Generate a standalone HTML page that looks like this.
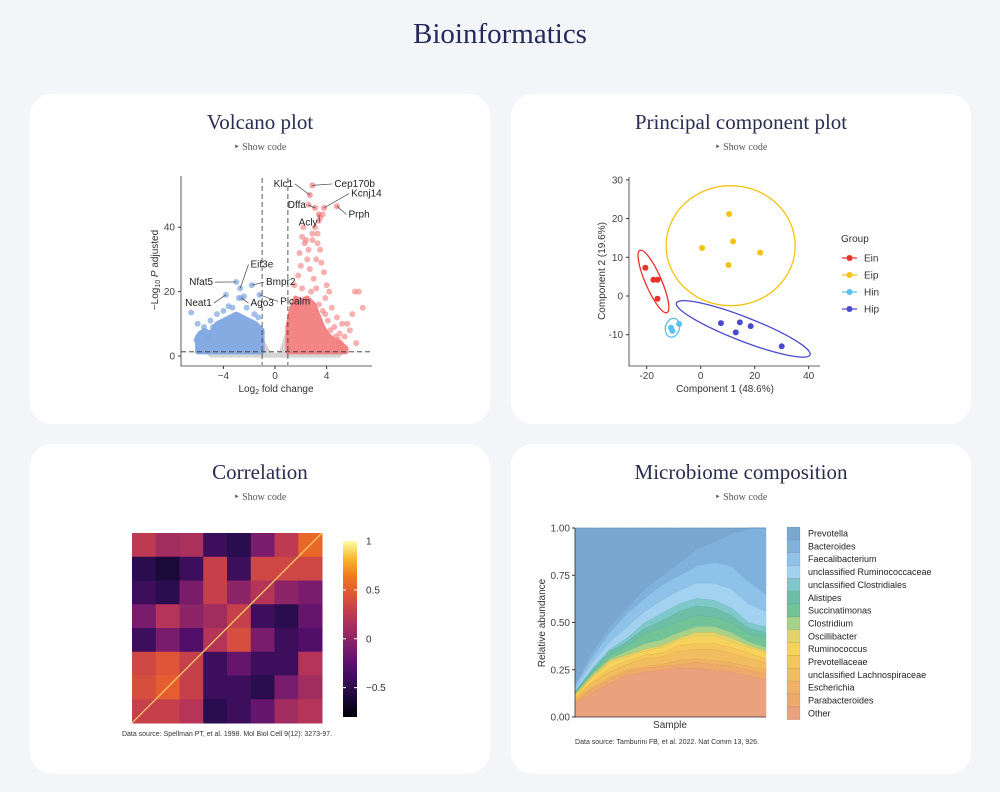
<!DOCTYPE html>
<html><head><meta charset="utf-8">
<style>
body{margin:0;width:1000px;height:792px;background:#f4f5f8;font-family:"Liberation Sans",sans-serif;position:relative;overflow:hidden}
.h1{position:absolute;left:0;width:1000px;top:18px;text-align:center;font-family:"Liberation Serif",serif;font-size:29px;color:#26285a}
.card{position:absolute;width:460px;height:330px;background:#fff;border-radius:22px}
.ct{position:absolute;left:0;width:460px;top:16px;text-align:center;font-family:"Liberation Serif",serif;font-size:21px;color:#2b2d50}
.sc{position:absolute;left:0;width:460px;top:48px;text-align:center;font-family:"Liberation Serif",serif;font-size:10px;color:#555}
svg{position:absolute;left:0;top:0}
text{font-family:"Liberation Sans",sans-serif}
</style></head><body>
<div class="h1">Bioinformatics</div>
<div class="card" style="left:30px;top:94px"><div class="ct">Volcano plot</div><div class="sc">‣ Show code</div></div>
<div class="card" style="left:511px;top:94px"><div class="ct">Principal component plot</div><div class="sc">‣ Show code</div></div>
<div class="card" style="left:30px;top:444px"><div class="ct">Correlation</div><div class="sc">‣ Show code</div></div>
<div class="card" style="left:511px;top:444px"><div class="ct">Microbiome composition</div><div class="sc">‣ Show code</div></div>
<svg id="s" width="1000" height="792"></svg>
<script>
// ---------- Volcano data ----------
const volUpPts=[[1.2,12],[1.5,22],[1.8,25],[2,28],[2.2,40],[2.4,36],[2.6,33],[2.9,38],[3.1,40],[2.5,30],[2.7,27],[3,24],[3.3,35],[3.5,33],[3.8,26],[3.2,21],[2.8,20],[2.1,21],[1.9,32],[3.6,29],[4,22],[4.2,20],[3.9,18],[4.4,15],[4.8,12],[5.2,10],[5.6,10],[6,13],[6.5,20],[6.8,15],[6.2,20],[5.8,8],[5.4,6],[4.6,9],[3.4,42],[3.5,43],[3.7,44],[2.3,35],[1.6,15],[2.6,47],[1.7,17],[4.9,5],[5,7],[6.3,4],[4.1,11],[3.9,13],[2.9,36],[3.3,38],[2.1,37],[3.2,30],[4.3,8],[4.7,6],[5.1,4],[3.7,14],[3.4,16]];
const volDownPts=[[-6.5,13.5],[-6,10],[-5.5,9],[-5,11],[-4.5,13],[-3.3,15],[-2.2,15],[-1.6,13],[-1.3,12],[-4,14],[-4.8,9],[-5.8,7],[-3.6,15.5],[-2.8,18],[-2.4,18.5],[-5.2,6],[-6.1,5]];
const volUpEnvX=[1,1.3,1.6,2,2.5,3,3.3,3.7,4,4.5,5,5.5];
const volUpEnvY=[9,15,18,17,18,16,13,9,7,5,4,2.5];
const volDownEnvX=[-6,-5.5,-5,-4.5,-4,-3.5,-3,-2.5,-2,-1.5,-1];
const volDownEnvY=[6,8,7,10,11,12,13,12,11,10,8];
const volLabels=[["Klc1",2.7,50,1.4,52.5],["Cep170b",2.9,53,4.6,52.5],["Kcnj14",3.8,46,5.9,49.5],["Dffa",3.1,46,2.4,46],["Prph",4.8,46.5,5.7,43],["Acly",3.4,44,3.3,40.5],["Eif3e",-2.7,21,-1.9,27.5],["Nfat5",-3.0,23,-4.8,22],["Bmpr2",-1.8,22,-0.7,22],["Neat1",-3.8,19,-4.9,15.5],["Ago3",-2.6,18,-1.9,15.5],["Picalm",-1.2,19,0.4,16]];
const volXTicks=[-4,0,4], volYTicks=[0,20,40];
// ---------- PCA data ----------
const pcaGroups=["Ein","Eip","Hin","Hip"];
const pcaColors=["#e8302c","#f5c211","#5bc0ec","#4a4ad0"];
const pcaX=[[-20.5,-17.5,-16,-16],[0.5,10.5,12,10.3,22],[-11,-10.5,-8],[7.5,14.5,18.5,13,30]];
const pcaY=[[7.3,4.2,4.2,-0.7],[12.4,21.2,14.1,8,11.2],[-8.2,-9,-7.2],[-7,-6.8,-7.8,-9.4,-13]];
const pcaEllipseEnds=[[-22.5,11.8,-12.5,-4.3],[-12.8,13,35,13],[-9.6,-5.8,-11.3,-10.6],[-9,-1.8,40.5,-15.2]];
const pcaEllipseMinor=[8,60,7,12];
const pcaXTicks=[-20,0,20,40], pcaYTicks=[-10,0,10,20,30];
// ---------- Correlation data ----------
const corrMatrix=[
[0.25,0.1,0.15,-0.4,-0.5,-0.1,0.25,0.55],
[-0.5,-0.6,-0.4,0.3,-0.4,0.35,0.35,0.35],
[-0.4,-0.5,-0.1,0.3,0,0.2,0,-0.1],
[-0.1,0.2,0,0.1,0.3,-0.4,-0.5,-0.2],
[-0.4,-0.1,-0.3,0.2,0.4,-0.1,-0.4,-0.3],
[0.35,0.45,0.3,-0.4,-0.2,-0.4,-0.4,0.2],
[0.4,0.5,0.3,-0.4,-0.4,-0.5,-0.1,0.1],
[0.3,0.3,0.2,-0.5,-0.4,-0.2,0.1,0.2]];
const corrTicks=[1,0.5,0,-0.5];
// ---------- Microbiome data ----------
const taxa=["Prevotella","Bacteroides","Faecalibacterium","unclassified Ruminococcaceae","unclassified Clostridiales","Alistipes","Succinatimonas","Clostridium","Oscillibacter","Ruminococcus","Prevotellaceae","unclassified Lachnospiraceae","Escherichia","Parabacteroides","Other"];
const taxaColors=["#7aa7cf","#80b1dc","#8ec2e8","#a3d2f0","#7fc8c9","#6cbfa6","#72c498","#a8d18a","#e2d46b","#f5d35c","#f5c65b","#f1bd60","#f0b366","#eea96c","#eaa27e"];
const abund=[
[.82,.65,.52,.42,.32,.25,.18,.11,.07,.03,0,0],
[.01,.03,.03,.03,.05,.05,.07,.09,.11,.17,.28,.35],
[.02,.03,.05,.07,.07,.08,.08,.09,.11,.12,.12,.09],
[.01,.03,.04,.06,.06,.07,.07,.08,.09,.1,.1,.08],
[.005,.01,.01,.02,.03,.04,.04,.04,.04,.04,.03,.03],
[.005,.01,.02,.02,.03,.04,.05,.05,.05,.04,.03,.03],
[.005,.01,.02,.03,.05,.06,.06,.06,.05,.05,.04,.05],
[.005,.01,.01,.02,.03,.03,.03,.03,.03,.03,.02,.02],
[0,.01,.01,.01,.01,.01,.01,.02,.02,.02,.01,.01],
[.01,.02,.03,.02,.02,.03,.03,.04,.04,.03,.03,.03],
[.01,.01,.02,.02,.02,.02,.03,.03,.03,.03,.03,.02],
[.01,.02,.03,.03,.04,.04,.05,.05,.06,.05,.04,.04],
[.01,.01,.01,.01,.01,.01,.02,.02,.02,.02,.02,.02],
[.01,.02,.02,.02,.02,.02,.02,.03,.03,.03,.03,.03],
[.07,.13,.18,.22,.24,.25,.26,.26,.25,.24,.22,.20]];
const abTicks=["0.00","0.25","0.50","0.75","1.00"];

const S=document.getElementById('s'),NS='http://www.w3.org/2000/svg';
function el(tag,attrs,parent){const e=document.createElementNS(NS,tag);for(const k in attrs)e.setAttribute(k,attrs[k]);(parent||S).appendChild(e);return e;}
function txt(x,y,s,attrs){const e=el('text',Object.assign({x:x,y:y,'font-size':10,fill:'#333'},attrs||{}));e.textContent=s;return e;}

// ===== Volcano =====
(function(){
const g=el('g',{});
const X=v=>275+v*12.9, Y=v=>356-v*3.22;
const grey=el('path',{d:`M${X(-5.5)},${Y(1.3)} L${X(-1)},${Y(1.3)} L${X(-1)},${Y(6)} L${X(-0.3)},${Y(1)} L${X(0.3)},${Y(1)} L${X(1)},${Y(10)} L${X(1)},${Y(1.3)} L${X(5.5)},${Y(1.3)} L${X(5)},${Y(-0.5)} L${X(-5)},${Y(-0.5)} Z`,fill:'#d4d4d4'},g);

let d=`M${X(volDownEnvX[0])},${Y(1.3)}`;volDownEnvX.forEach((x,i)=>d+=` L${X(x)},${Y(volDownEnvY[i])}`);d+=` L${X(-1)},${Y(1.3)} Z`;
const bc=el('path',{d:d,fill:'#86abe3',stroke:'#86abe3','stroke-width':5,'stroke-linejoin':'round'},g);
d=`M${X(1)},${Y(1.3)}`;volUpEnvX.forEach((x,i)=>d+=` L${X(x)},${Y(volUpEnvY[i])}`);d+=` L${X(volUpEnvX[volUpEnvX.length-1])},${Y(1.3)} Z`;
const rc=el('path',{d:d,fill:'#f48585',stroke:'#f48585','stroke-width':5,'stroke-linejoin':'round'},g);
volUpPts.forEach(p=>{const c=el('circle',{cx:X(p[0]),cy:Y(p[1]),r:3,fill:'#f47c7c','fill-opacity':0.6},g);});
volDownPts.forEach(p=>{const c=el('circle',{cx:X(p[0]),cy:Y(p[1]),r:3,fill:'#7ea6e0','fill-opacity':0.7},g);});
volLabels.forEach(l=>{const col=l[1]>0?'#f47c7c':'#7ea6e0';
 const c=el('circle',{cx:X(l[1]),cy:Y(l[2]),r:3,fill:col,'fill-opacity':0.7},g);
 const ln=el('line',{x1:X(l[1]),y1:Y(l[2]),x2:X(l[3])+(l[3]<l[1]?2:-2),y2:Y(l[4])-3,stroke:'#444','stroke-width':0.7},g);
 const t=txt(X(l[3]),Y(l[4]),l[0],{'font-size':10,fill:'#222','text-anchor':l[3]<l[1]?'end':'start'});g.appendChild(t);});
[-1,1].forEach(v=>{const l=el('line',{x1:X(v),x2:X(v),y1:178,y2:365,stroke:'#333','stroke-dasharray':'5,3','stroke-width':0.8},g);});
const hl=el('line',{x1:181,x2:372,y1:Y(1.3),y2:Y(1.3),stroke:'#333','stroke-dasharray':'5,3','stroke-width':0.8},g);
const ax=el('path',{d:'M181,176 L181,366 L372,366',fill:'none',stroke:'#333','stroke-width':0.8},g);
volXTicks.forEach(v=>{el('line',{x1:X(v),x2:X(v),y1:366,y2:369,stroke:'#333'},g);const t=txt(X(v),379,String(v).replace('-','−'),{'text-anchor':'middle',fill:'#444'});g.appendChild(t);});
volYTicks.forEach(v=>{el('line',{x1:178,x2:181,y1:Y(v),y2:Y(v),stroke:'#333'},g);const t=txt(175,Y(v)+3.5,v,{'text-anchor':'end',fill:'#444'});g.appendChild(t);});
const xt=el('text',{x:276,y:392,'text-anchor':'middle','font-size':10,fill:'#333'},g);xt.innerHTML='Log<tspan font-size="7" dy="2">2</tspan><tspan dy="-2"> fold change</tspan>';
const yt=el('text',{x:0,y:0,transform:'translate(158,270) rotate(-90)','text-anchor':'middle','font-size':10,fill:'#333'},g);yt.innerHTML='−Log<tspan font-size="7" dy="2">10</tspan><tspan dy="-2" font-style="italic"> P</tspan><tspan> adjusted</tspan>';
})();

// ===== PCA =====
(function(){
const g=el('g',{});
const X=v=>700.7+v*2.7, Y=v=>296-v*3.87;
pcaEllipseEnds.forEach((e,i)=>{const x1=X(e[0]),y1=Y(e[1]),x2=X(e[2]),y2=Y(e[3]);
 const cx=(x1+x2)/2,cy=(y1+y2)/2,rx=Math.hypot(x2-x1,y2-y1)/2,ang=Math.atan2(y2-y1,x2-x1)*180/Math.PI;
 const el1=el('ellipse',{cx:cx,cy:cy,rx:rx,ry:pcaEllipseMinor[i],transform:`rotate(${ang} ${cx} ${cy})`,fill:'none',stroke:pcaColors[i],'stroke-width':1.3},g);
 });
pcaX.forEach((xs,i)=>xs.forEach((x,j)=>{const c=el('circle',{cx:X(x),cy:Y(pcaY[i][j]),r:3,fill:pcaColors[i]},g);}));
const ax=el('path',{d:'M629,177 L629,366 L820,366',fill:'none',stroke:'#333','stroke-width':0.8},g);
pcaXTicks.forEach(v=>{el('line',{x1:X(v),x2:X(v),y1:366,y2:369,stroke:'#333'},g);const t=txt(X(v),379,v,{'text-anchor':'middle',fill:'#444'});g.appendChild(t);});
pcaYTicks.forEach(v=>{el('line',{x1:626,x2:629,y1:Y(v),y2:Y(v),stroke:'#333'},g);const t=txt(623,Y(v)+3.5,v,{'text-anchor':'end',fill:'#444'});g.appendChild(t);});
let t=txt(725,392,'Component 1 (48.6%)',{'text-anchor':'middle'});g.appendChild(t);
t=txt(0,0,'Component 2 (19.6%)',{'text-anchor':'middle',transform:'translate(605,271) rotate(-90)'});g.appendChild(t);
t=txt(841,242,'Group',{});g.appendChild(t);
pcaGroups.forEach((n,i)=>{const y=258+i*17;const lg=el('g',{},g);
 el('line',{x1:842,x2:857,y1:y,y2:y,stroke:pcaColors[i],'stroke-width':1.2},lg);el('circle',{cx:849.5,cy:y,r:3,fill:pcaColors[i]},lg);const tt=txt(864,y+3.5,n,{});lg.appendChild(tt);});
})();

// ===== Correlation =====
(function(){
const g=el('g',{});
const stops=[[0,[0,0,4]],[0.14,[31,12,72]],[0.29,[85,15,109]],[0.43,[136,34,106]],[0.57,[186,54,85]],[0.71,[227,89,51]],[0.86,[249,142,9]],[0.93,[246,215,70]],[1,[252,255,164]]];
function inferno(t){t=Math.max(0,Math.min(1,t));for(let i=1;i<stops.length;i++){if(t<=stops[i][0]){const a=stops[i-1],b=stops[i],f=(t-a[0])/(b[0]-a[0]);return 'rgb('+a[1].map((c,k)=>Math.round(c+(b[1][k]-c)*f)).join(',')+')';}}return 'rgb(252,255,164)';}
const vmin=-0.8,vmax=1,x0=132,y0=533,W=190,n=corrMatrix.length,cw=W/n;
const C=v=>inferno((v-vmin)/(vmax-vmin));
corrMatrix.forEach((row,i)=>row.forEach((v,j)=>{const r=el('rect',{x:x0+j*cw,y:y0+i*cw,width:cw+0.5,height:cw+0.5,fill:C(v)},g);}));
const dl=el('line',{x1:x0,y1:y0+W,x2:x0+W,y2:y0,stroke:'#f8d86a','stroke-width':1.2},g);
const defs=el('defs',{},g);const lg=el('linearGradient',{id:'inf',x1:0,y1:1,x2:0,y2:0},defs);
for(let k=0;k<=10;k++)el('stop',{offset:k/10,'stop-color':inferno(k/10)},lg);
const cb=el('rect',{x:343,y:541,width:14,height:176,fill:'url(#inf)'},g);
const CY=v=>717-(v-vmin)/(vmax-vmin)*176;
corrTicks.forEach(v=>{el('line',{x1:343,x2:346,y1:CY(v),y2:CY(v),stroke:'#fff'},g);el('line',{x1:354,x2:357,y1:CY(v),y2:CY(v),stroke:'#fff'},g);const t=txt(366,CY(v)+3.5,String(v).replace('-','−'),{});g.appendChild(t);});
const t=txt(227,736,'Data source: Spellman PT, et al. 1998. Mol Biol Cell 9(12): 3273-97.',{'text-anchor':'middle','font-size':7,fill:'#333'});g.appendChild(t);
})();

// ===== Microbiome =====
(function(){
const g=el('g',{});
const x0=575,x1=766,n=abund[0].length;
const X=i=>x0+i*(x1-x0)/(n-1), Y=v=>717-v*189;
const cum=new Array(n).fill(0);
for(let k=abund.length-1;k>=0;k--){
 const lo=cum.slice();abund[k].forEach((v,i)=>cum[i]+=v);
 let d='M'+X(0)+','+Y(cum[0]);for(let i=1;i<n;i++)d+=' L'+X(i)+','+Y(cum[i]);
 for(let i=n-1;i>=0;i--)d+=' L'+X(i)+','+Y(lo[i]);d+='Z';
 const p=el('path',{d:d,fill:taxaColors[k],stroke:taxaColors[k],'stroke-width':0.5},g);
 let e='M'+X(0)+','+Y(cum[0]);for(let i=1;i<n;i++)e+=' L'+X(i)+','+Y(Math.min(1,cum[i]));
 el('path',{d:e,fill:'none',stroke:k>=8?'rgba(200,90,0,0.45)':'rgba(0,60,120,0.25)','stroke-width':0.8},g);
}
const ax=el('path',{d:`M${x0},528 L${x0},717 L${x1},717`,fill:'none',stroke:'#333','stroke-width':0.8},g);
abTicks.forEach(s=>{const y=Y(parseFloat(s));el('line',{x1:x0-3,x2:x0,y1:y,y2:y,stroke:'#333'},g);const t=txt(x0-5,y+3.5,s,{'text-anchor':'end',fill:'#444'});g.appendChild(t);});
let t=txt(670,728,'Sample',{'text-anchor':'middle'});g.appendChild(t);
t=txt(0,0,'Relative abundance',{'text-anchor':'middle',transform:'translate(545,623) rotate(-90)'});g.appendChild(t);
taxa.forEach((n2,k)=>{const y=527+k*12.85;const lg=el('g',{},g);
 el('rect',{x:787,y:y,width:13,height:12.85,fill:taxaColors[k],stroke:'rgba(0,0,0,0.12)','stroke-width':0.6},lg);const tt=txt(808,y+9.5,n2,{'font-size':9,fill:'#222'});lg.appendChild(tt);});
t=txt(667,744,'Data source: Tamburini FB, et al. 2022. Nat Comm 13, 926.',{'text-anchor':'middle','font-size':7,fill:'#333'});g.appendChild(t);
})();
</script>
</body></html>
